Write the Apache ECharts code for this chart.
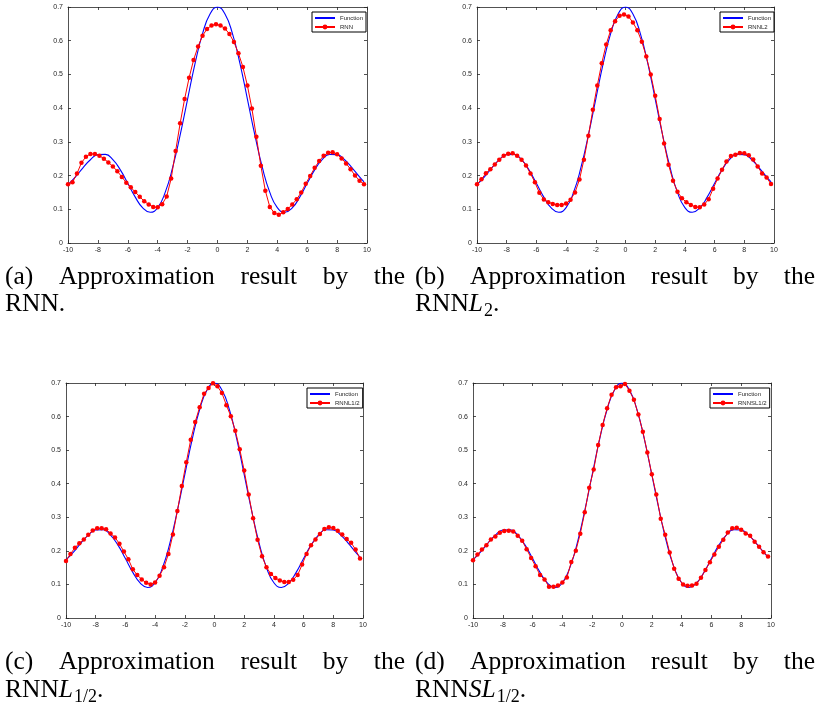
<!DOCTYPE html>
<html>
<head>
<meta charset="utf-8">
<script src="https://cdn.jsdelivr.net/npm/echarts@6/dist/echarts.min.js"></script>
<style>
  html, body { margin: 0; padding: 0; background: #fff; }
  #chart { width: 820px; height: 715px; }
</style>
</head>
<body>
<div id="chart"></div>
<script>
// target function
const fnX = [-10, -9.5, -9, -8.5, -8, -7.5, -7, -6.5, -6, -5.5, -5, -4.5, -4, -3.5, -3, -2.5, -2, -1.5, -1, -0.5,
  0, 0.5, 1, 1.5, 2, 2.5, 3, 3.5, 4, 4.5, 5, 5.5, 6, 6.5, 7, 7.5, 8, 8.5, 9, 9.5, 9.8];
const fnY = [0.173, 0.196, 0.223, 0.247, 0.262, 0.263, 0.247, 0.217, 0.177, 0.136, 0.104, 0.091, 0.105, 0.150, 0.224, 0.320, 0.427, 0.533, 0.621, 0.679,
  0.700, 0.679, 0.621, 0.533, 0.427, 0.320, 0.224, 0.150, 0.105, 0.091, 0.104, 0.136, 0.177, 0.217, 0.247, 0.263, 0.262, 0.247, 0.223, 0.196, 0.181];

// network outputs (red markers)
const ptX = [-10, -9.7, -9.4, -9.1, -8.8, -8.5, -8.2, -7.9, -7.6, -7.3, -7, -6.7, -6.4, -6.1, -5.8, -5.5, -5.2, -4.9, -4.6, -4.3,
  -4, -3.7, -3.4, -3.1, -2.8, -2.5, -2.2, -1.9, -1.6, -1.3, -1, -0.7, -0.4, -0.1, 0.2, 0.5, 0.8, 1.1, 1.4, 1.7,
  2, 2.3, 2.6, 2.9, 3.2, 3.5, 3.8, 4.1, 4.4, 4.7, 5, 5.3, 5.6, 5.9, 6.2, 6.5, 6.8, 7.1, 7.4, 7.7,
  8, 8.3, 8.6, 8.9, 9.2, 9.5, 9.8];
const rnnY = [0.174, 0.180, 0.206, 0.238, 0.256, 0.264, 0.264, 0.259, 0.250, 0.239, 0.227, 0.213, 0.196, 0.179, 0.165, 0.151, 0.137, 0.124, 0.114, 0.107,
  0.106, 0.115, 0.138, 0.191, 0.273, 0.355, 0.427, 0.490, 0.543, 0.583, 0.615, 0.635, 0.645, 0.649, 0.645, 0.636, 0.620, 0.596, 0.563, 0.522,
  0.467, 0.399, 0.315, 0.229, 0.155, 0.107, 0.089, 0.084, 0.091, 0.101, 0.114, 0.130, 0.150, 0.176, 0.199, 0.223, 0.243, 0.259, 0.268, 0.269,
  0.263, 0.251, 0.236, 0.219, 0.200, 0.185, 0.174];
const rnnL2Y = [0.174, 0.189, 0.207, 0.219, 0.233, 0.247, 0.259, 0.265, 0.266, 0.259, 0.247, 0.230, 0.206, 0.180, 0.149, 0.129, 0.121, 0.116, 0.113, 0.113,
  0.117, 0.128, 0.150, 0.188, 0.247, 0.318, 0.395, 0.467, 0.533, 0.589, 0.631, 0.658, 0.674, 0.678, 0.672, 0.654, 0.631, 0.597, 0.553, 0.500,
  0.437, 0.368, 0.295, 0.232, 0.185, 0.152, 0.133, 0.121, 0.113, 0.107, 0.106, 0.114, 0.130, 0.161, 0.191, 0.217, 0.242, 0.258, 0.262, 0.267,
  0.266, 0.260, 0.248, 0.227, 0.206, 0.194, 0.175];
const rnnL12Y = [0.170, 0.191, 0.209, 0.223, 0.234, 0.248, 0.261, 0.267, 0.267, 0.264, 0.252, 0.240, 0.221, 0.198, 0.175, 0.145, 0.128, 0.115, 0.105, 0.100,
  0.106, 0.126, 0.151, 0.191, 0.249, 0.319, 0.393, 0.464, 0.531, 0.584, 0.628, 0.668, 0.685, 0.699, 0.690, 0.670, 0.634, 0.601, 0.558, 0.503,
  0.439, 0.368, 0.297, 0.233, 0.184, 0.151, 0.131, 0.119, 0.112, 0.107, 0.107, 0.114, 0.128, 0.159, 0.191, 0.217, 0.234, 0.250, 0.265, 0.270,
  0.268, 0.260, 0.249, 0.235, 0.224, 0.204, 0.177];
const rnnSL12Y = [0.172, 0.189, 0.204, 0.217, 0.234, 0.243, 0.254, 0.259, 0.260, 0.258, 0.245, 0.230, 0.205, 0.179, 0.154, 0.128, 0.115, 0.093, 0.093, 0.097,
  0.106, 0.121, 0.167, 0.200, 0.251, 0.315, 0.388, 0.442, 0.515, 0.575, 0.625, 0.665, 0.687, 0.690, 0.697, 0.677, 0.650, 0.606, 0.555, 0.493,
  0.428, 0.368, 0.296, 0.248, 0.195, 0.147, 0.117, 0.100, 0.096, 0.097, 0.102, 0.120, 0.143, 0.166, 0.189, 0.212, 0.233, 0.255, 0.267, 0.269,
  0.263, 0.252, 0.245, 0.227, 0.212, 0.196, 0.183];

const fnName = 'Function';
const netNames = ['RNN', 'RNNL2', 'RNNL1/2', 'RNNSL1/2'];
const netValues = [rnnY, rnnL2Y, rnnL12Y, rnnSL12Y];

// captions
const captionTags = ['(a)', '(b)', '(c)', '(d)'];
const captionWords = ['Approximation', 'result', 'by', 'the'];
// second line pieces: [text, kind]  n = normal, i = italic, s = subscript
const captionTails = [
  [['RNN', 'n'], ['.', 'n']],
  [['RNN', 'n'], ['L', 'i'], ['2', 's'], ['.', 'n']],
  [['RNN', 'n'], ['L', 'i'], ['1/2', 's'], ['.', 'n']],
  [['RNN', 'n'], ['SL', 'i'], ['1/2', 's'], ['.', 'n']],
];

const panels = [
  { left: 68, top: 7, width: 299, height: 236, legend: [312, 12] },
  { left: 477, top: 7, width: 297, height: 236, legend: [720, 12] },
  { left: 66, top: 383, width: 297, height: 235, legend: [307, 388] },
  { left: 473, top: 383, width: 298, height: 235, legend: [710, 388] },
];
const captionCols = [[5, 405], [415, 815], [5, 405], [415, 815]];
const captionRows = [[285, 312], [285, 312], [670, 698], [670, 698]];

const axisColor = '#262626';
const serif = "'Liberation Serif', 'Times New Roman', serif";
const capSize = 25.5;
const subSize = 18;

const chart = echarts.init(document.getElementById('chart'));

const xAxis = [];
const yAxis = [];
const series = [];
const legend = [];

panels.forEach((p, i) => {
  const line = { onZero: false, lineStyle: { color: axisColor, width: 0.8 } };
  const tick = { inside: true, length: 3, lineStyle: { color: axisColor, width: 0.8 } };
  const label = { fontSize: 7, color: axisColor, fontFamily: 'Liberation Sans' };
  xAxis.push(
    { type: 'value', gridIndex: i, min: -10, max: 10, interval: 2, position: 'bottom',
      axisLine: line, axisTick: tick, splitLine: { show: false }, axisLabel: { ...label, margin: 4 } },
    { type: 'value', gridIndex: i, min: -10, max: 10, interval: 2, position: 'top',
      axisLine: line, axisTick: tick, splitLine: { show: false }, axisLabel: { show: false } }
  );
  yAxis.push(
    { type: 'value', gridIndex: i, min: 0, max: 0.7, interval: 0.1, position: 'left',
      axisLine: line, axisTick: tick, splitLine: { show: false }, axisLabel: { ...label, margin: 5 } },
    { type: 'value', gridIndex: i, min: 0, max: 0.7, interval: 0.1, position: 'right',
      axisLine: line, axisTick: tick, splitLine: { show: false }, axisLabel: { show: false } }
  );
  series.push(
    {
      name: fnName, type: 'line', xAxisIndex: 2 * i, yAxisIndex: 2 * i,
      data: fnX.map((x, k) => [x, fnY[k]]),
      smooth: true, symbol: 'none', lineStyle: { color: '#0000ff', width: 1.1 }, itemStyle: { color: '#0000ff' },
    },
    {
      name: netNames[i], type: 'line', xAxisIndex: 2 * i, yAxisIndex: 2 * i,
      data: ptX.map((x, k) => [x, netValues[i][k]]),
      symbol: 'circle', symbolSize: 4.5, showAllSymbol: true,
      lineStyle: { color: '#ff0000', width: 1 }, itemStyle: { color: '#ff0000' },
    }
  );
  legend.push({
    // the plain line has no marker in the key
    data: [
      { name: fnName, itemStyle: { color: 'rgba(0,0,0,0)', borderColor: 'rgba(0,0,0,0)', borderWidth: 0 } },
      netNames[i],
    ],
    orient: 'vertical',
    left: p.legend[0],
    top: p.legend[1],
    backgroundColor: '#fff',
    borderColor: '#000',
    borderWidth: 1,
    borderRadius: 0,
    padding: [3, 3, 2, 2],
    itemWidth: 20,
    itemHeight: 6,
    itemGap: 3,
    selectedMode: false,
    textStyle: { fontSize: 6, color: axisColor, fontFamily: 'Liberation Sans' },
  });
});

// caption text, laid out like justified TeX lines
const measure = document.createElement('canvas').getContext('2d');
const textWidth = (t, size, italic) => {
  measure.font = (italic ? 'italic ' : '') + size + 'px ' + serif;
  return measure.measureText(t).width;
};
const word = (t, x, baseline, size, italic) => ({
  type: 'text', silent: true, x, y: baseline - 0.3 * size,
  style: { text: t, fill: '#000', fontSize: size, fontFamily: serif, fontStyle: italic ? 'italic' : 'normal',
    textAlign: 'left', textVerticalAlign: 'middle' },
});

const graphic = [];
captionTags.forEach((tag, i) => {
  const [x0, x1] = captionCols[i];
  const [b1, b2] = captionRows[i];
  const words = [tag, ...captionWords];
  const widths = words.map((w) => textWidth(w, capSize));
  const gap = (x1 - x0 - widths.reduce((a, b) => a + b, 0)) / (words.length - 1);
  let x = x0;
  words.forEach((w, k) => {
    graphic.push(word(w, x, b1, capSize));
    x += widths[k] + gap;
  });
  x = x0;
  captionTails[i].forEach(([t, kind]) => {
    const size = kind === 's' ? subSize : capSize;
    const italic = kind === 'i';
    const base = kind === 's' ? b2 + 5 : b2;
    graphic.push(word(t, x, base, size, italic));
    x += textWidth(t, size, italic) + (kind === 'i' ? 1 : 0);
  });
});

chart.setOption({
  animation: false,
  backgroundColor: '#fff',
  grid: panels.map((p) => ({ left: p.left, top: p.top, width: p.width, height: p.height, containLabel: false })),
  xAxis,
  yAxis,
  legend,
  series,
  graphic,
});
</script>
</body>
</html>
